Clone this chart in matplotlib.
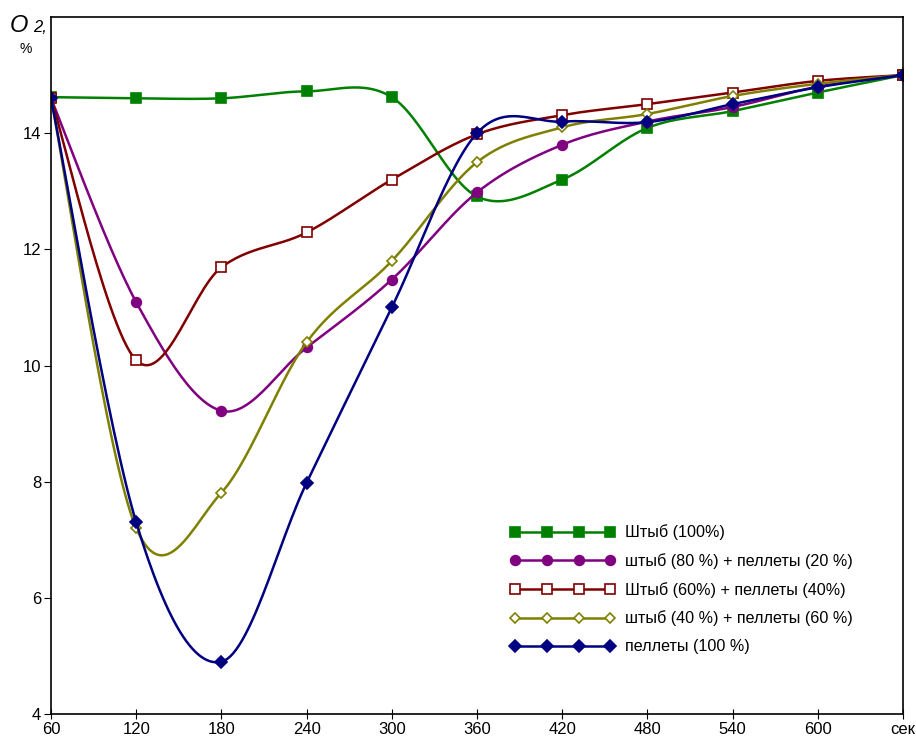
import numpy as np
import matplotlib
matplotlib.use('Agg')
from matplotlib import pyplot as plt

plt.rcParams['font.family'] = ['Liberation Sans', 'DejaVu Sans']

x = [60, 120, 180, 240, 300, 360, 420, 480, 540, 600, 660]
x_labels = ['60', '120', '180', '240', '300', '360', '420', '480', '540', '600', 'сек']

shtyb_100 = [14.62, 14.6, 14.6, 14.72, 14.62, 12.91, 13.2, 14.09, 14.38, 14.7, 15.0]
shtyb80_pel20 = [14.6, 11.09, 9.22, 10.31, 11.48, 12.98, 13.8, 14.2, 14.45, 14.8, 15.0]
shtyb60_pel40 = [14.6, 10.09, 11.69, 12.29, 13.2, 13.98, 14.31, 14.5, 14.7, 14.9, 15.0]
shtyb40_pel60 = [14.6, 7.2, 7.81, 10.4, 11.8, 13.5, 14.1, 14.33, 14.64, 14.85, 15.0]
pellets_100 = [14.6, 7.3, 4.9, 7.98, 11.0, 14.0, 14.2, 14.19, 14.5, 14.79, 15.0]

series = [
    ('Штыб (100%)', shtyb_100, '#008000', 's', '#008000', 7),
    ('штыб (80 %) + пеллеты (20 %)', shtyb80_pel20, '#800080', 'o', '#800080', 7),
    ('Штыб (60%) + пеллеты (40%)', shtyb60_pel40, '#800000', 's', 'white', 7),
    ('штыб (40 %) + пеллеты (60 %)', shtyb40_pel60, '#808000', 'D', 'white', 5),
    ('пеллеты (100 %)', pellets_100, '#000080', 'D', '#000080', 6),
]


def smooth(xs, ys, n=30):
    # catmull-rom through the points, like excel smoothed lines
    xs = np.asarray(xs, float)
    ys = np.asarray(ys, float)
    p = np.column_stack([xs, ys])
    p = np.vstack([p[0], p, p[-1]])
    out = []
    t = np.linspace(0, 1, n)[:, None]
    for i in range(1, len(p) - 2):
        p0, p1, p2, p3 = p[i - 1], p[i], p[i + 1], p[i + 2]
        c1 = p1 + (p2 - p0) / 6
        c2 = p2 - (p3 - p1) / 6
        seg = ((1 - t) ** 3) * p1 + 3 * ((1 - t) ** 2) * t * c1 + 3 * (1 - t) * t ** 2 * c2 + t ** 3 * p2
        out.append(seg if i == 1 else seg[1:])
    out = np.vstack(out)
    return out[:, 0], out[:, 1]


fig = plt.figure(figsize=(9.16, 7.40), dpi=100)
ax = fig.add_axes([51 / 916, 26 / 740, 852 / 916, 697 / 740])

for label, ys, color, marker, face, ms in series:
    sx, sy = smooth(x, ys)
    ax.plot(sx, sy, color=color, lw=1.8)
    ax.plot(x, ys, linestyle='none', marker=marker, color=color,
            markerfacecolor=face, markeredgecolor=color, markersize=ms, mew=1.2)
    ax.plot([], [], color=color, lw=1.8, marker=marker, markerfacecolor=face,
            markeredgecolor=color, markersize=ms, mew=1.2, label=label)

ax.set_xlim(60, 660)
ax.set_ylim(4, 16)
ax.set_xticks(x)
ax.set_xticklabels(x_labels)
ax.set_yticks([4, 6, 8, 10, 12, 14])
ax.tick_params(axis='x', direction='inout', length=7, labelsize=12, pad=2)
ax.tick_params(axis='y', direction='out', length=5, labelsize=12, pad=2)
for s in ax.spines.values():
    s.set_linewidth(1.2)

fig.text(10 / 916, 1 - 32 / 740, 'O', fontsize=17, style='italic', va='baseline')
fig.text(33 / 916, 1 - 32 / 740, '2,', fontsize=12, style='italic', va='baseline')
fig.text(19 / 916, 1 - 53 / 740, '%', fontsize=10, va='baseline')

ax.legend(loc='upper left', bbox_to_anchor=(496 / 916, 1 - 510 / 740),
          bbox_transform=fig.transFigure, frameon=False, numpoints=4,
          handlelength=6.5, handletextpad=0.6, labelspacing=0.8, fontsize=11.6)

fig.savefig('out.png', dpi=100)
